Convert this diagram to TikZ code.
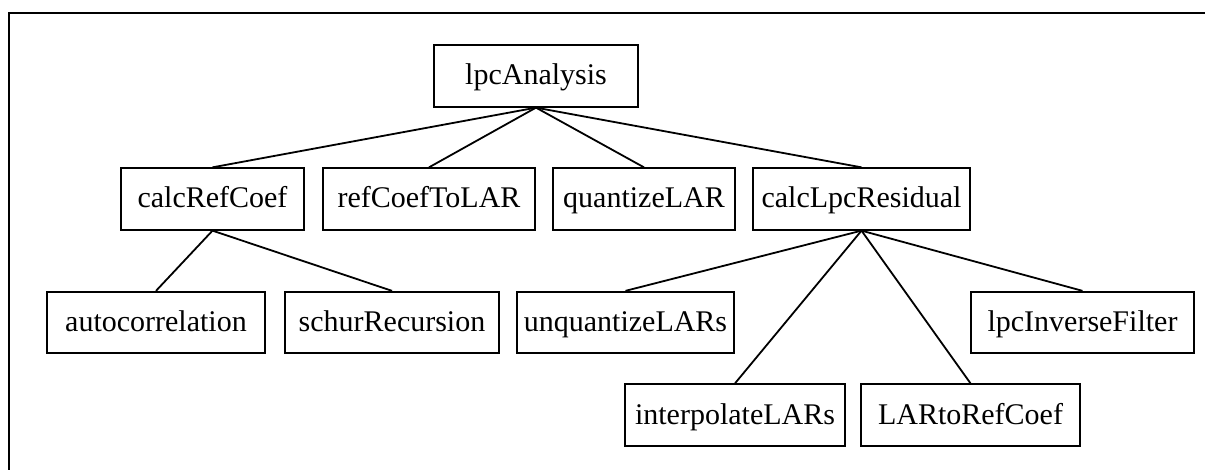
\documentclass[tikz,border=0pt]{standalone}
\usepackage{fontspec}
\setmainfont{Liberation Serif}
\begin{document}
\begin{tikzpicture}[x=1pt,y=-1pt,
  box/.style={draw, line width=1.8pt, rectangle, inner sep=0pt, minimum height=61.5pt,
    text height=22pt, text depth=4pt,
    font=\fontsize{30}{36}\selectfont},
  link/.style={line width=1.8pt}]
\useasboundingbox (0,0) rectangle (1205,470);
\draw[line width=2pt] (9,470) -- (9,13) -- (1205,13);
% row 1
\node[box, minimum width=204pt] (lpc) at (536,76) {lpcAnalysis};
% row 2
\node[box, minimum width=183pt] (crc) at (212.5,199) {calcRefCoef};
\node[box, minimum width=212pt] (rcl) at (429,199) {refCoefToLAR};
\node[box, minimum width=182pt] (qla) at (644,199) {quantizeLAR};
\node[box, minimum width=217pt] (clr) at (861.5,199) {calcLpcResidual};
% row 3
\node[box, minimum width=218pt] (aut) at (156,322.5) {autocorrelation};
\node[box, minimum width=214pt] (sch) at (392,322.5) {schurRecursion};
\node[box, minimum width=217pt] (unq) at (625.5,322.5) {unquantizeLARs};
\node[box, minimum width=223pt] (lif) at (1082.5,322.5) {lpcInverseFilter};
% row 4
\node[box, minimum width=220pt] (int) at (735,415) {interpolateLARs};
\node[box, minimum width=219pt] (lrc) at (970.5,415) {LARtoRefCoef};
% connectors
\foreach \c in {crc,rcl,qla,clr} \draw[link] (lpc.south) -- (\c.north);
\foreach \c in {aut,sch} \draw[link] (crc.south) -- (\c.north);
\foreach \c in {unq,int,lrc,lif} \draw[link] (clr.south) -- (\c.north);
\end{tikzpicture}
\end{document}
